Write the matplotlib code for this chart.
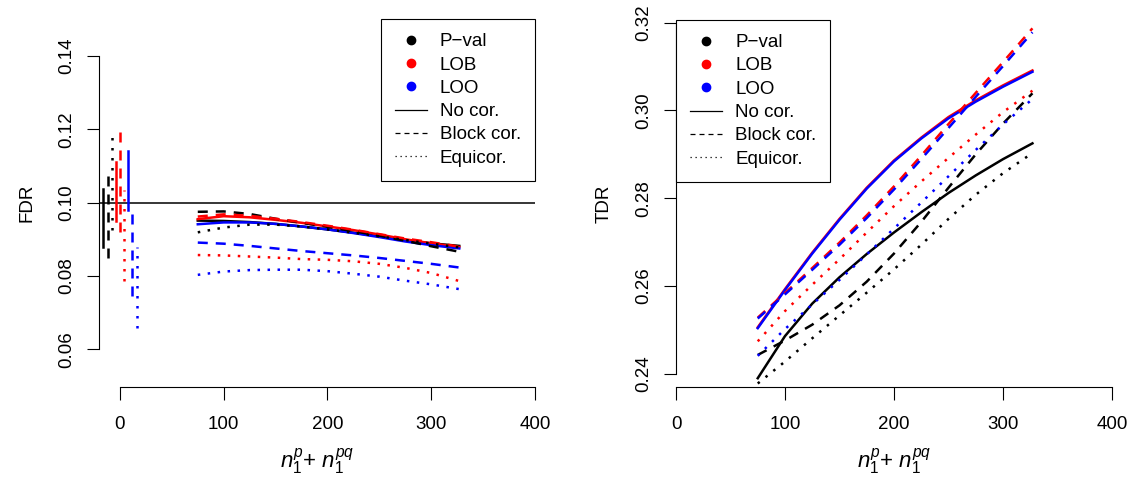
import matplotlib
matplotlib.use("Agg")
import matplotlib.pyplot as plt
from matplotlib.lines import Line2D

plt.rcParams['font.family'] = ['Liberation Sans', 'DejaVu Sans']
plt.rcParams['mathtext.fontset'] = 'custom'
plt.rcParams['mathtext.rm'] = 'Liberation Sans'
plt.rcParams['mathtext.it'] = 'Liberation Sans:italic'

# sample sizes on the x axis
n_values = [75, 100, 125, 150, 175, 200, 225, 250, 275, 300, 327]

# FDR curves (left panel)
fdr_pval_nocor = [0.0951, 0.0950, 0.0947, 0.0942, 0.0935, 0.0927, 0.0918, 0.0908, 0.0898, 0.0889, 0.0882]
fdr_lob_nocor = [0.0955, 0.0963, 0.0960, 0.0953, 0.0945, 0.0935, 0.0925, 0.0913, 0.0900, 0.0889, 0.0879]
fdr_loo_nocor = [0.0941, 0.0946, 0.0946, 0.0942, 0.0935, 0.0927, 0.0917, 0.0906, 0.0894, 0.0884, 0.0875]
fdr_pval_block = [0.0975, 0.0976, 0.0969, 0.0956, 0.0945, 0.0934, 0.0922, 0.0910, 0.0896, 0.0881, 0.0866]
fdr_lob_block = [0.0962, 0.0968, 0.0964, 0.0956, 0.0947, 0.0937, 0.0926, 0.0914, 0.0902, 0.0892, 0.0880]
fdr_loo_block = [0.0891, 0.0888, 0.0882, 0.0875, 0.0868, 0.0862, 0.0856, 0.0849, 0.0841, 0.0833, 0.0823]
fdr_pval_equi = [0.0919, 0.0932, 0.0940, 0.0940, 0.0935, 0.0927, 0.0918, 0.0908, 0.0898, 0.0888, 0.0878]
fdr_lob_equi = [0.0857, 0.0856, 0.0853, 0.0850, 0.0846, 0.0844, 0.0840, 0.0833, 0.0822, 0.0808, 0.0786]
fdr_loo_equi = [0.0803, 0.0812, 0.0816, 0.0817, 0.0817, 0.0813, 0.0806, 0.0798, 0.0787, 0.0777, 0.0764]

# FDR ranges near zero (no cor., block cor., equicor.)
bar_x_pval = [-16, -12, -8]
bar_x_lob = [-4, 0, 4]
bar_x_loo = [8, 12, 16]
bar_lo_pval = [0.0880, 0.0848, 0.0926]
bar_hi_pval = [0.1037, 0.1089, 0.1196]
bar_lo_lob = [0.0951, 0.0921, 0.0785]
bar_hi_lob = [0.1112, 0.1196, 0.1035]
bar_lo_loo = [0.0980, 0.0744, 0.0657]
bar_hi_loo = [0.1142, 0.0980, 0.0880]

# TDR curves (right panel)
tdr_pval_nocor = [0.2390, 0.2486, 0.2560, 0.2620, 0.2673, 0.2722, 0.2768, 0.2812, 0.2852, 0.2889, 0.2925]
tdr_lob_nocor = [0.2506, 0.2593, 0.2676, 0.2753, 0.2824, 0.2886, 0.2938, 0.2985, 0.3023, 0.3057, 0.3091]
tdr_loo_nocor = [0.2504, 0.2591, 0.2674, 0.2751, 0.2822, 0.2884, 0.2936, 0.2982, 0.3020, 0.3054, 0.3088]
tdr_pval_block = [0.2443, 0.2476, 0.2512, 0.2556, 0.2610, 0.2674, 0.2746, 0.2824, 0.2900, 0.2970, 0.3039]
tdr_lob_block = [0.2528, 0.2584, 0.2641, 0.2699, 0.2761, 0.2827, 0.2897, 0.2969, 0.3040, 0.3110, 0.3187]
tdr_loo_block = [0.2526, 0.2581, 0.2637, 0.2694, 0.2755, 0.2820, 0.2889, 0.2960, 0.3031, 0.3101, 0.3178]
tdr_pval_equi = [0.2378, 0.2428, 0.2481, 0.2533, 0.2585, 0.2638, 0.2694, 0.2753, 0.2808, 0.2857, 0.2903]
tdr_lob_equi = [0.2474, 0.2543, 0.2603, 0.2661, 0.2722, 0.2782, 0.2838, 0.2892, 0.2945, 0.2996, 0.3045]
tdr_loo_equi = [0.2441, 0.2502, 0.2558, 0.2614, 0.2672, 0.2731, 0.2790, 0.2850, 0.2910, 0.2968, 0.3026]

methods = ['P\u2212val', 'LOB', 'LOO']
colors = ['black', '#ff0000', '#0000ff']
corrs = ['No cor.', 'Block cor.', 'Equicor.']

LW = 1.8
DASH = (4, 3.2)
DOT = (1, 3)
FS = 13.5


def style_kw(corr, lw=LW):
    if corr == 0:
        return dict(linestyle='-', lw=lw)
    if corr == 1:
        return dict(linestyle=(0, DASH), lw=lw, dash_capstyle='butt')
    return dict(linestyle=(0, DOT), lw=lw, dash_capstyle='butt')


def r_axes(ax, xticks, yticks, ylabels):
    for s in ['top', 'right']:
        ax.spines[s].set_visible(False)
    for s in ['left', 'bottom']:
        ax.spines[s].set_linewidth(0.8)
    ax.spines['left'].set_bounds(yticks[0], yticks[-1])
    ax.spines['bottom'].set_bounds(xticks[0], xticks[-1])
    ax.set_xticks(xticks)
    ax.set_xticklabels([str(t) for t in xticks])
    ax.set_yticks(yticks)
    ax.set_yticklabels(ylabels, rotation=90, va='center')
    ax.tick_params(axis='both', length=9, width=0.8, labelsize=FS)
    ax.tick_params(axis='x', pad=12)
    ax.tick_params(axis='y', pad=8)


def add_legend(ax, loc, anchor):
    handles = [Line2D([], [], color=c, marker='o', linestyle='None', markersize=6)
               for c in colors]
    handles += [Line2D([], [], color='black', **style_kw(k, lw=0.9)) for k in range(3)]
    leg = ax.legend(handles, methods + corrs, loc=loc, bbox_to_anchor=anchor,
                    borderaxespad=0, fancybox=False, framealpha=1, edgecolor='black',
                    fontsize=FS, handlelength=1.7, handletextpad=0.7,
                    labelspacing=0.33, borderpad=0.75)
    leg.get_frame().set_linewidth(0.8)


fig = plt.figure(figsize=(11.32, 4.79), dpi=100)
ax1 = fig.add_axes([99 / 1132, 92 / 479, 436 / 1132, 368 / 479])
ax2 = fig.add_axes([676 / 1132, 92 / 479, 436 / 1132, 367 / 479])

# left panel: FDR
fdr = [[fdr_pval_nocor, fdr_pval_block, fdr_pval_equi],
       [fdr_lob_nocor, fdr_lob_block, fdr_lob_equi],
       [fdr_loo_nocor, fdr_loo_block, fdr_loo_equi]]
bars = [(bar_x_pval, bar_lo_pval, bar_hi_pval),
        (bar_x_lob, bar_lo_lob, bar_hi_lob),
        (bar_x_loo, bar_lo_loo, bar_hi_loo)]

ax1.axhline(0.10, color='black', lw=1.1)
for m in range(3):
    bx, blo, bhi = bars[m]
    for k in range(3):
        ax1.plot([bx[k], bx[k]], [blo[k], bhi[k]], color=colors[m], **style_kw(k))
for k in range(3):
    for m in range(3):
        ax1.plot(n_values, fdr[m][k], color=colors[m], **style_kw(k))

ax1.set_xlim(-20.2, 400)
ax1.set_ylim(0.0497, 0.1501)
r_axes(ax1, [0, 100, 200, 300, 400], [0.06, 0.08, 0.10, 0.12, 0.14],
       ['0.06', '0.08', '0.10', '0.12', '0.14'])
ax1.set_ylabel('FDR', fontsize=FS, va='center')
ax1.yaxis.set_label_coords(-0.165, 0.5)
ax1.set_xlabel(r'$n_1^p$+ $n_1^{pq}$', fontsize=16, va='center')
ax1.xaxis.set_label_coords(0.5, -0.204)
add_legend(ax1, 'upper right', (1, 1))

# right panel: TDR
tdr = [[tdr_pval_nocor, tdr_pval_block, tdr_pval_equi],
       [tdr_lob_nocor, tdr_lob_block, tdr_lob_equi],
       [tdr_loo_nocor, tdr_loo_block, tdr_loo_equi]]
for k in range(3):
    for m in range(3):
        ax2.plot(n_values, tdr[m][k], color=colors[m], **style_kw(k))

ax2.set_xlim(0, 400)
ax2.set_ylim(0.2370, 0.3206)
r_axes(ax2, [0, 100, 200, 300, 400], [0.24, 0.26, 0.28, 0.30, 0.32],
       ['0.24', '0.26', '0.28', '0.30', '0.32'])
ax2.set_ylabel('TDR', fontsize=FS, va='center')
ax2.yaxis.set_label_coords(-0.165, 0.5)
ax2.set_xlabel(r'$n_1^p$+ $n_1^{pq}$', fontsize=16, va='center')
ax2.xaxis.set_label_coords(0.5, -0.204)
add_legend(ax2, 'upper left', (0, 1))

fig.savefig('out.png', dpi=100)
